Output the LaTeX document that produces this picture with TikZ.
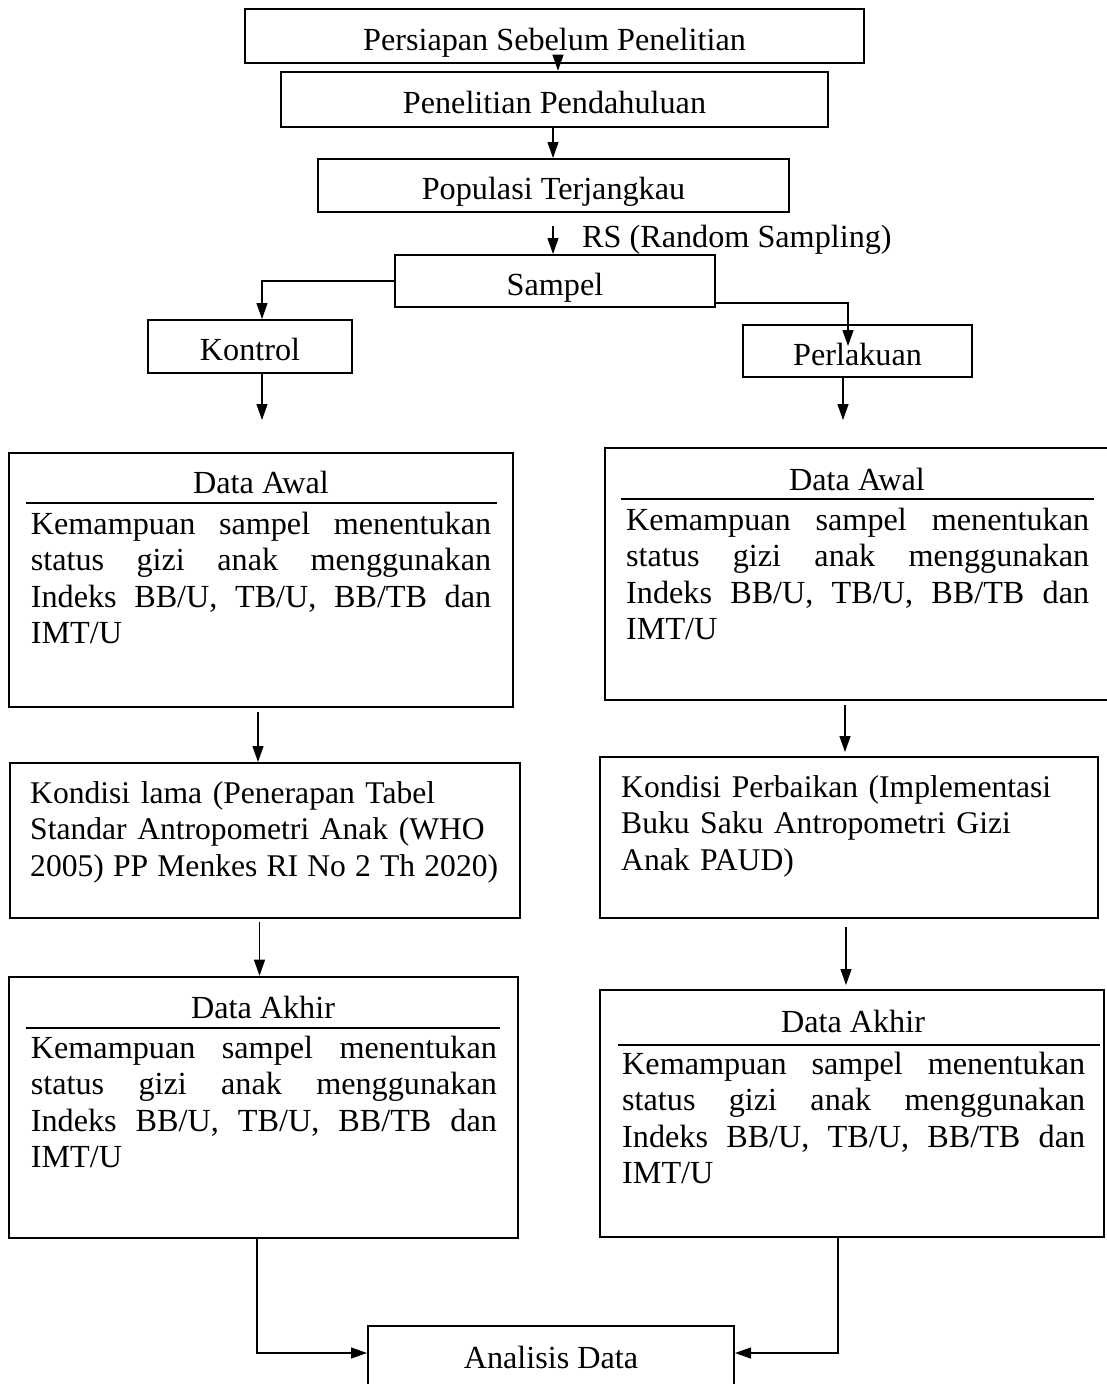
\documentclass[tikz,border=0pt]{standalone}
\usepackage{fontspec}
\setmainfont{Liberation Serif}
\usetikzlibrary{arrows.meta}
\newcommand\myfs{\fontsize{32.2}{36.6}\selectfont}
\newcommand\mysfs{\fontsize{31.6}{36.8}\selectfont}
\newcommand\jl[2]{\leavevmode\hbox to #1{#2}}
\begin{document}
\begin{tikzpicture}[x=1pt,y=-1pt,
  box/.style={draw, line width=2pt, inner sep=0pt, text height=30pt, text depth=2pt, font=\myfs},
  bigbox/.style={draw, line width=2pt, inner sep=0pt},
  lbl/.style={inner sep=0pt, anchor=base, font=\myfs},
  para/.style={inner sep=0pt, anchor=base west, align=left, text width=600pt, font=\myfs},
  arr/.style={line width=1.2pt, -{Triangle[length=16pt,width=11pt]}},
  uline/.style={line width=2pt}]
\useasboundingbox (0,0) rectangle (1106,1384);

% top chain
\node[box, minimum width=619pt, minimum height=54pt] (b1) at (554.5,36) {Persiapan Sebelum Penelitian};
\node[box, minimum width=547pt, minimum height=55pt] (b2) at (554.5,99.2) {Penelitian Pendahuluan};
\node[box, minimum width=471pt, minimum height=53pt] (b3) at (553.5,185.5) {Populasi Terjangkau};
\node[box, minimum width=320pt, minimum height=52pt] (samp) at (555,281) {Sampel};
\node[box, minimum width=204pt, minimum height=53pt] (kont) at (250,346.5) {Kontrol};
\node[box, minimum width=229pt, minimum height=52pt] (perl) at (857.5,351) {Perlakuan};
\node[lbl, anchor=base west] (rs) at (582,247) {RS (Random Sampling)};

% big boxes
\node[bigbox, minimum width=503.4pt, minimum height=254.3pt] (da1) at (261,579.85) {};
\node[bigbox, minimum width=505pt, minimum height=251.7pt] (da2) at (857.5,574.15) {};
\node[bigbox, minimum width=510.5pt, minimum height=155pt] (kl) at (264.75,840.5) {};
\node[bigbox, minimum width=498pt, minimum height=161pt] (kp) at (849,837.5) {};
\node[bigbox, minimum width=508.7pt, minimum height=261.3pt] (dk1) at (263.65,1107.35) {};
\node[bigbox, minimum width=504pt, minimum height=247pt] (dk2) at (852,1113.5) {};
\node[box, minimum width=366pt, minimum height=68pt, text height=24pt, text depth=8pt] (an) at (551,1360) {Analisis Data};

% titles and rules
\node[lbl] (t1) at (261,493) {Data Awal};
\node[lbl] (t2) at (857,490) {Data Awal};
\node[lbl] (t3) at (263,1018) {Data Akhir};
\node[lbl] (t4) at (853,1032) {Data Akhir};
\draw[uline] (26,503.3) -- (496.7,503.3);
\draw[uline] (621,499) -- (1094,499);
\draw[uline] (26,1028.3) -- (500,1028.3);
\draw[uline] (618,1045) -- (1100,1045);

% paragraphs
\node[para] (p1) at (30.7,534) {\jl{460.3pt}{Kemampuan\hfill sampel\hfill menentukan}\\\jl{460.3pt}{status\hfill gizi\hfill anak\hfill menggunakan}\\\jl{460.3pt}{Indeks\hfill BB/U,\hfill TB/U,\hfill BB/TB\hfill dan}\\IMT/U};
\node[para] (p2) at (626,530) {\jl{463pt}{Kemampuan\hfill sampel\hfill menentukan}\\\jl{463pt}{status\hfill gizi\hfill anak\hfill menggunakan}\\\jl{463pt}{Indeks\hfill BB/U,\hfill TB/U,\hfill BB/TB\hfill dan}\\IMT/U};
\node[para, font=\mysfs] (p5) at (30,803) {Kondisi lama (Penerapan Tabel\\Standar Antropometri Anak (WHO\\\jl{468pt}{2005)\hfill PP\hfill Menkes\hfill RI\hfill No\hfill 2\hfill Th\hfill 2020)}};
\node[para, font=\mysfs] (p6) at (621,797) {Kondisi Perbaikan (Implementasi\\Buku Saku Antropometri Gizi\\Anak PAUD)};
\node[para] (p3) at (30.7,1058) {\jl{466pt}{Kemampuan\hfill sampel\hfill menentukan}\\\jl{466pt}{status\hfill gizi\hfill anak\hfill menggunakan}\\\jl{466pt}{Indeks\hfill BB/U,\hfill TB/U,\hfill BB/TB\hfill dan}\\IMT/U};
\node[para] (p4) at (622,1074) {\jl{463pt}{Kemampuan\hfill sampel\hfill menentukan}\\\jl{463pt}{status\hfill gizi\hfill anak\hfill menggunakan}\\\jl{463pt}{Indeks\hfill BB/U,\hfill TB/U,\hfill BB/TB\hfill dan}\\IMT/U};

% connector end points
\coordinate (c1) at (558,55);
\coordinate (c3) at (553,226);
\coordinate (cp) at (848,346);
\coordinate (ck) at (262,420);
\coordinate (ca) at (843,420);
\coordinate (d1) at (258,712);
\coordinate (d2) at (845,705);
\coordinate (d2e) at (845,752);
\coordinate (k1) at (259.5,922);
\coordinate (k2) at (846,927);
\coordinate (k2e) at (846,985);
\coordinate (q1) at (257,1238);
\coordinate (q2) at (838,1237);

% connectors
\draw[arr] (c1) -- (c1 |- b2.north);
\draw[arr] ([xshift=-1.5pt]b2.south) -- ([xshift=-1.5pt]b2.south |- b3.north);
\draw[arr] (c3) -- (c3 |- samp.north);
\draw[arr] (samp.west) -| ([xshift=12pt]kont.north);
\draw[arr] ([yshift=5pt]samp.south east) -| (cp);
\draw[arr] ([xshift=12pt]kont.south) -- (ck);
\draw[arr] ([xshift=-14.5pt]perl.south) -- (ca);
\draw[arr] (d1) -- (d1 |- kl.north);
\draw[arr] (d2) -- (d2e);
\draw[arr] (k1) -- (k1 |- dk1.north);
\draw[arr] (k2) -- (k2e);
\draw[arr] (q1) |- ([yshift=7pt]an.west);
\draw[arr] (q2) |- ([yshift=7pt]an.east);
\end{tikzpicture}
\end{document}
